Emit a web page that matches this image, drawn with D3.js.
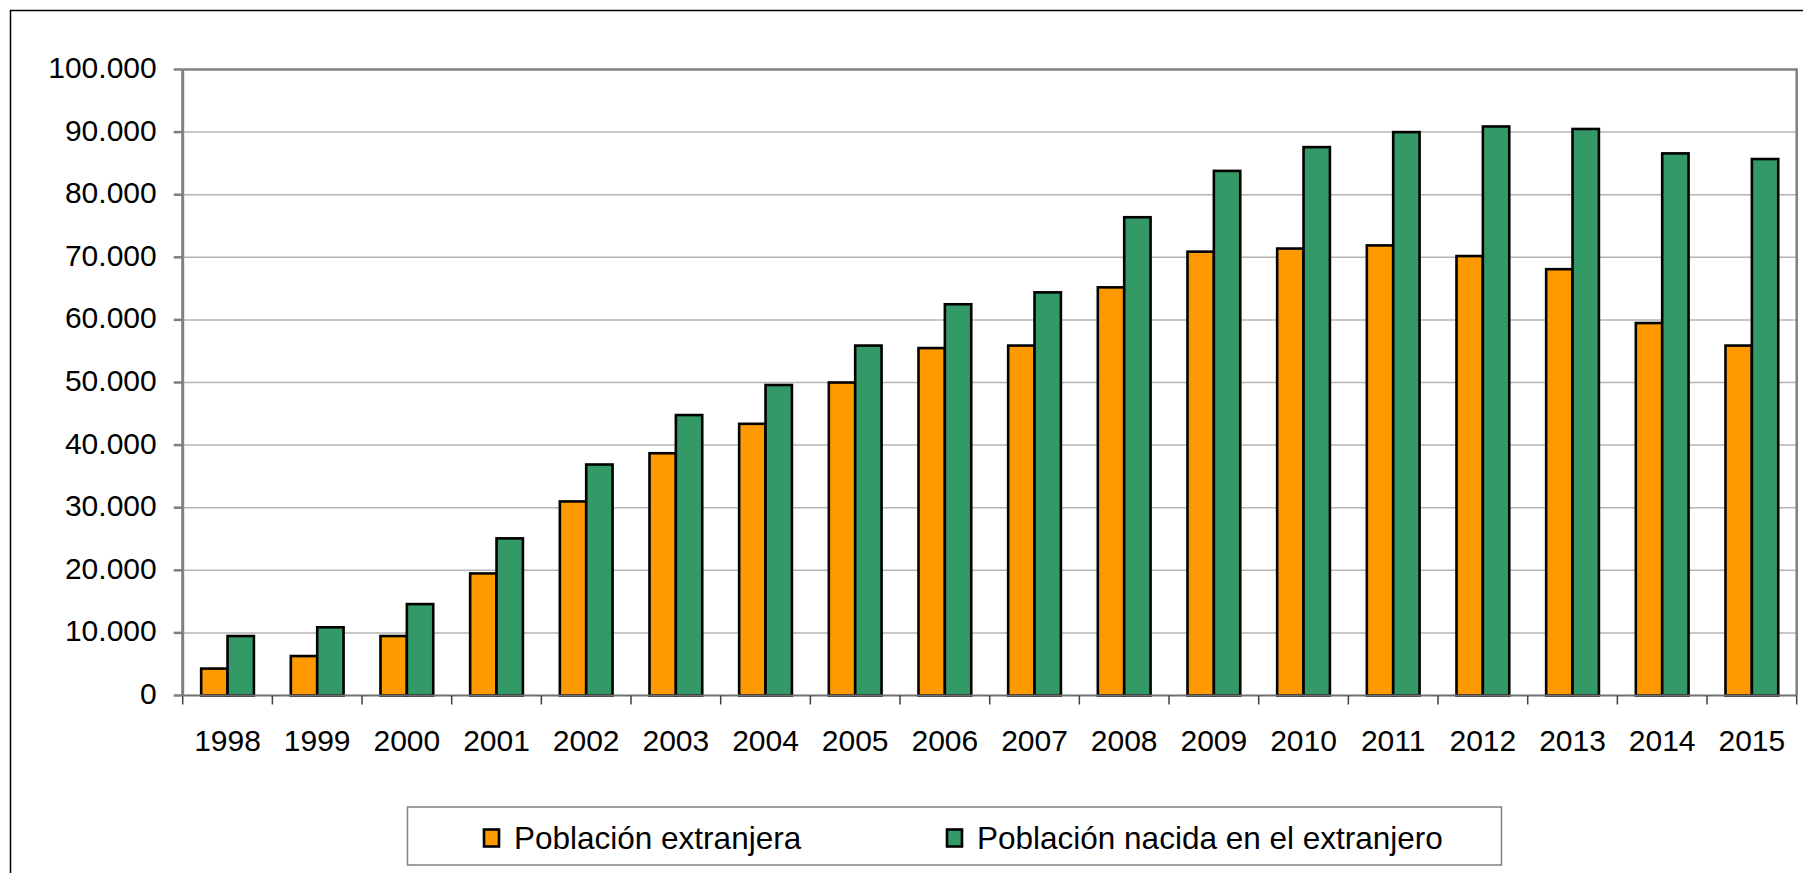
<!DOCTYPE html>
<html>
<head>
<meta charset="utf-8">
<script src="https://cdn.jsdelivr.net/npm/d3@7"></script>
<style>
  html, body { margin: 0; padding: 0; background: #fff; }
  svg { display: block; }
  text { font-family: "Liberation Sans", Arial, sans-serif; fill: #000; }
</style>
</head>
<body>
<svg id="chart" width="1803" height="873"></svg>
<script>
const years = ["1998","1999","2000","2001","2002","2003","2004","2005","2006","2007","2008","2009","2010","2011","2012","2013","2014","2015"];
const extranjera = [4300, 6300, 9500, 19500, 31000, 38700, 43400, 50000, 55500, 55900, 65200, 70900, 71400, 71900, 70200, 68100, 59500, 55900];
const nacidaExtranjero = [9500, 10900, 14600, 25100, 36900, 44800, 49600, 55900, 62500, 64400, 76400, 83800, 87600, 90000, 90900, 90500, 86600, 85700];
const seriesNames = ["Población extranjera", "Población nacida en el extranjero"];
const seriesColors = ["#FF9900", "#339966"];
const yTicks = [0, 10000, 20000, 30000, 40000, 50000, 60000, 70000, 80000, 90000, 100000];

const svg = d3.select("#chart");
const W = 1803, H = 873;
const plot = { left: 182.7, right: 1796.7, top: 69.5, bottom: 695.5 };

const locale = d3.formatLocale({ decimal: ",", thousands: ".", grouping: [3], currency: ["", "€"] });
const fmt = locale.format(",d");

// outer chart border (extends past the picture on the right and bottom)
svg.append("rect")
  .attr("x", 10.5).attr("y", 10.5)
  .attr("width", W + 20).attr("height", H + 20)
  .attr("fill", "#fff").attr("stroke", "#000").attr("stroke-width", 1.5);

const x0 = d3.scaleBand().domain(years).range([plot.left, plot.right]).paddingInner(0).paddingOuter(0);
const groupW = x0.bandwidth() / 1.7;
const x1 = d3.scaleBand().domain([0, 1]).range([0, groupW]).padding(0);
const y = d3.scaleLinear().domain([0, 100000]).range([plot.bottom, plot.top]);

// gridlines
svg.append("g").selectAll("line").data(yTicks.filter(d => d > 0 && d < 100000)).join("line")
  .attr("x1", plot.left).attr("x2", plot.right)
  .attr("y1", d => y(d)).attr("y2", d => y(d))
  .attr("stroke", "#b4b4b4").attr("stroke-width", 1.5);

// plot area top & right border
svg.append("path")
  .attr("d", `M${plot.left},${plot.top}H${plot.right}V${plot.bottom}`)
  .attr("fill", "none").attr("stroke", "#808080").attr("stroke-width", 2.5);

// bars
const data = years.map((yr, i) => ({ year: yr, values: [extranjera[i], nacidaExtranjero[i]] }));
const groups = svg.append("g").selectAll("g").data(data).join("g")
  .attr("transform", d => `translate(${x0(d.year) + (x0.bandwidth() - groupW) / 2},0)`);
groups.selectAll("rect").data(d => d.values.map((v, k) => ({ v, k }))).join("rect")
  .attr("x", d => x1(d.k))
  .attr("width", x1.bandwidth())
  .attr("y", d => y(d.v))
  .attr("height", d => y(0) - y(d.v))
  .attr("fill", d => seriesColors[d.k])
  .attr("stroke", "#000").attr("stroke-width", 2.6);

// x axis
const xAxis = svg.append("g").attr("transform", `translate(0,${plot.bottom})`);
xAxis.append("line").attr("x1", plot.left).attr("x2", plot.right)
  .attr("stroke", "#707070").attr("stroke-width", 2);
const boundaries = years.map(yr => x0(yr)).concat([plot.right]);
xAxis.selectAll("line.tick").data(boundaries).join("line").attr("class", "tick")
  .attr("x1", d => d).attr("x2", d => d).attr("y1", 0).attr("y2", 9)
  .attr("stroke", "#404040").attr("stroke-width", 1.5);
xAxis.selectAll("text").data(years).join("text")
  .attr("x", d => x0(d) + x0.bandwidth() / 2)
  .attr("y", 55)
  .attr("text-anchor", "middle")
  .attr("font-size", 30)
  .text(d => d);

// y axis
const yAxisG = svg.append("g").attr("transform", `translate(${plot.left},0)`);
yAxisG.append("line").attr("y1", plot.top).attr("y2", plot.bottom)
  .attr("stroke", "#808080").attr("stroke-width", 3);
yAxisG.selectAll("line.tick").data(yTicks).join("line").attr("class", "tick")
  .attr("x1", -9).attr("x2", 0)
  .attr("y1", d => y(d)).attr("y2", d => y(d))
  .attr("stroke", "#808080").attr("stroke-width", 2.5);
yAxisG.selectAll("text").data(yTicks).join("text")
  .attr("x", -26)
  .attr("y", d => y(d) - 2)
  .attr("dy", "0.35em")
  .attr("text-anchor", "end")
  .attr("font-size", 30)
  .text(d => fmt(d));

// legend
const leg = svg.append("g");
leg.append("rect").attr("x", 407.5).attr("y", 807).attr("width", 1094).attr("height", 58)
  .attr("fill", "#fff").attr("stroke", "#808080").attr("stroke-width", 1.5);
const legX = [484, 947];
seriesNames.forEach((name, k) => {
  leg.append("rect").attr("x", legX[k]).attr("y", 829.5).attr("width", 15).attr("height", 17)
    .attr("fill", seriesColors[k]).attr("stroke", "#000").attr("stroke-width", 2.6);
  leg.append("text").attr("x", legX[k] + 30).attr("y", 849)
    .attr("font-size", 31.5).text(name);
});
</script>
</body>
</html>
